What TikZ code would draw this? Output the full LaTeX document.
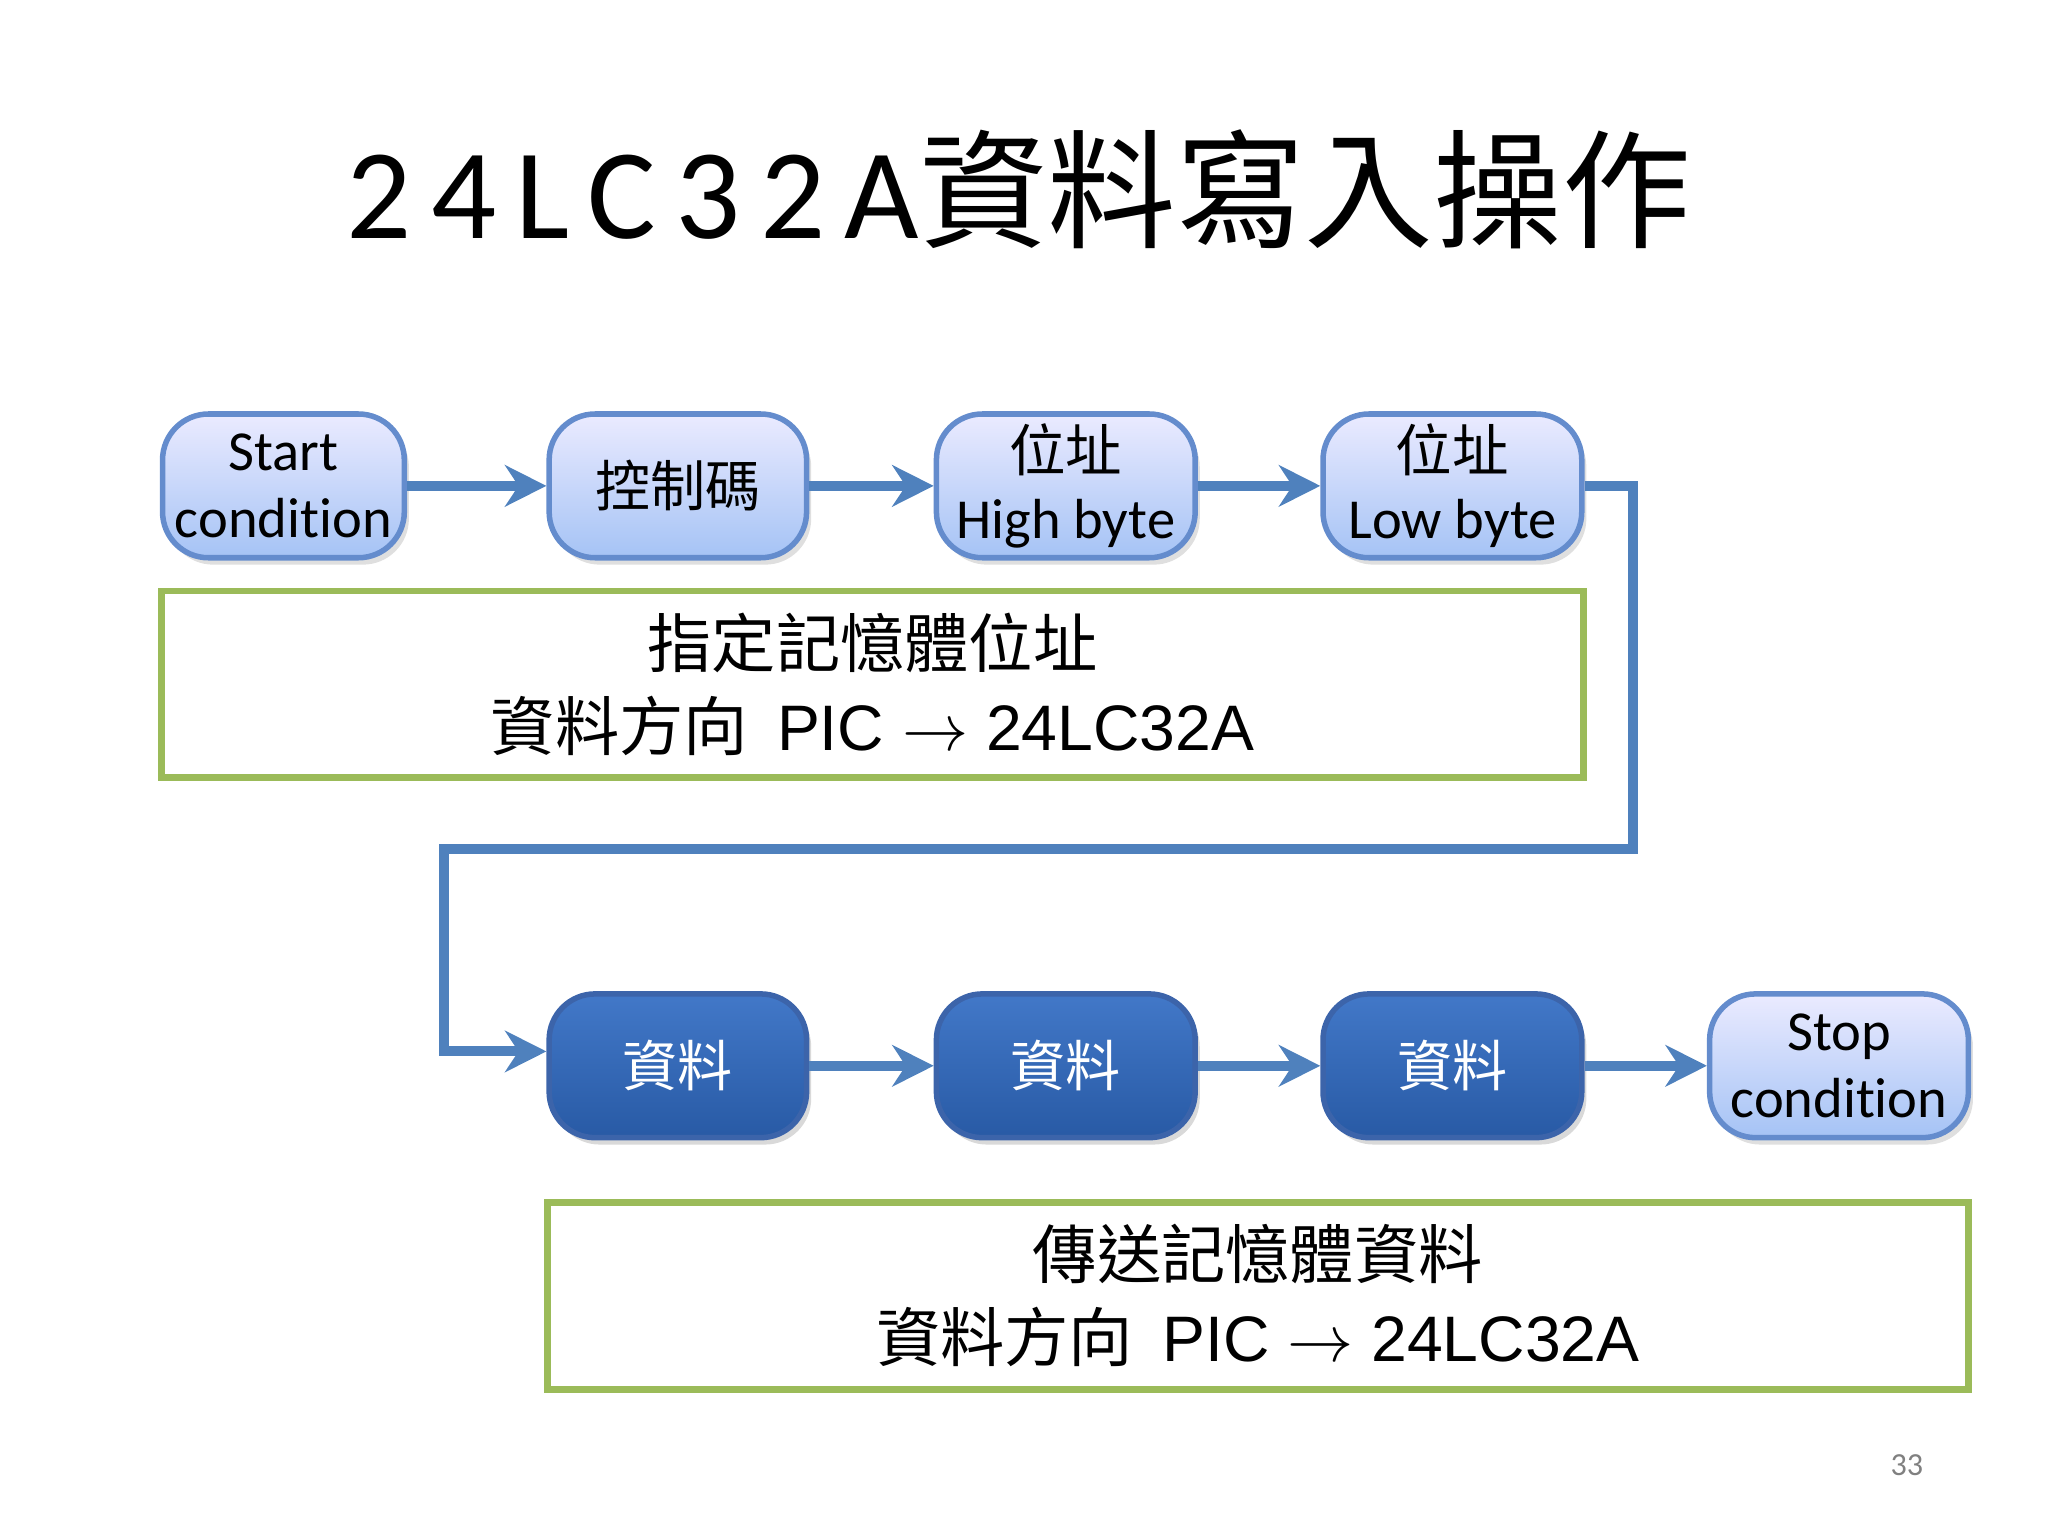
\documentclass[tikz,border=0pt]{standalone}
\usepackage{fontspec}
\setmainfont{Carlito}[Ligatures=NoCommon]
\newfontfamily\cjk{Noto Sans CJK TC}
\newfontfamily\ars{Liberation Sans}
\newfontfamily\ttl{Carlito}[LetterSpace=15]
\usetikzlibrary{arrows.meta,shadows}
\definecolor{arr}{RGB}{79,129,189}
\definecolor{lbd}{RGB}{100,140,205}
\definecolor{grn}{RGB}{155,187,89}
\begin{document}
\begin{tikzpicture}[x=0.01cm,y=-0.01cm,
 lb/.style={draw=lbd,line width=1.2pt,rounded corners=10pt,top color=blue!8!white,bottom color={rgb,255:red,165;green,195;blue,245},minimum width=1.9cm,minimum height=1.1cm,align=center,font=\fontsize{12.3}{14.5}\selectfont,inner sep=0pt,drop shadow={opacity=0.25,shadow xshift=1pt,shadow yshift=-1.5pt}},
 db/.style={draw={rgb,255:red,60;green,100;blue,170},line width=1.2pt,rounded corners=10pt,top color={rgb,255:red,66;green,120;blue,200},bottom color={rgb,255:red,40;green,90;blue,165},minimum width=1.9cm,minimum height=1.1cm,text=white,font=\cjk\fontsize{12}{14}\selectfont,drop shadow={opacity=0.3,shadow xshift=1pt,shadow yshift=-1.5pt}},
 gb/.style={draw=grn,line width=1.5pt,align=center,font=\fontsize{14}{18}\selectfont},
 ar/.style={draw=arr,line width=2.2pt,-{Stealth[length=9pt,width=9pt]}}]
\useasboundingbox (0,0) rectangle (1568,1176);
\node[font=\fontsize{28}{32}\selectfont] (t) at (780,145) {{\ttl 24LC32A}{\cjk 資料寫入操作}};
\node[lb,minimum width=1.85cm] (s) at (217,372) {Start\\condition};
\node[lb,minimum width=1.97cm,font=\cjk\fontsize{12}{14}\selectfont] (c) at (519,372) {控制碼};
\node[lb,minimum width=1.98cm] (h) at (816,372) {{\cjk 位址}\\High byte};
\node[lb,minimum width=1.98cm] (l) at (1112,372) {{\cjk 位址}\\Low byte};
\node[gb,minimum width=10.88cm,minimum height=1.43cm] (g1) at (668,524) {{\cjk 指定記憶體位址}\\{\cjk 資料方向}\ \ {\ars PIC $\rightarrow$ 24LC32A}};
\node[db,minimum width=1.97cm] (d1) at (519,816) {資料};
\node[db,minimum width=1.98cm] (d2) at (816,816) {資料};
\node[db,minimum width=1.98cm] (d3) at (1112,816) {資料};
\node[lb,minimum width=1.98cm] (st) at (1408,816) {Stop\\condition};
\node[gb,minimum width=10.87cm,minimum height=1.43cm] (g2) at (963,992) {{\cjk 傳送記憶體資料}\\{\cjk 資料方向}\ \ {\ars PIC $\rightarrow$ 24LC32A}};
\node[text=gray,font=\fontsize{7}{8}\selectfont] (pn) at (1460,1122) {33};
\draw[ar] (s) -- (c);
\draw[ar] (c) -- (h);
\draw[ar] (h) -- (l);
\draw[ar] (l.east) -- (1250,372) -- (1250,650) -- (340,650) -- (340,805) -- (d1.west|-340,805);
\draw[ar] (d1) -- (d2);
\draw[ar] (d2) -- (d3);
\draw[ar] (d3) -- (st);
\end{tikzpicture}
\end{document}
